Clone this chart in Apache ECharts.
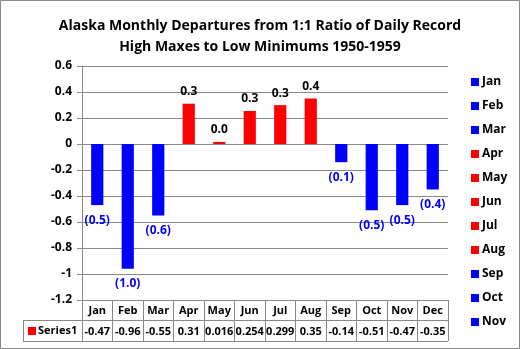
<!DOCTYPE html>
<html><head><meta charset="utf-8">
<script src="https://cdn.jsdelivr.net/npm/echarts@6/dist/echarts.min.js"></script>
<style>html,body{margin:0;padding:0;background:#fff}#c{width:520px;height:349px}</style>
</head><body><div id="c"></div>
<script>
var categories = ['Jan','Feb','Mar','Apr','May','Jun','Jul','Aug','Sep','Oct','Nov','Dec'];
var values = [-0.47,-0.96,-0.55,0.31,0.016,0.254,0.299,0.35,-0.14,-0.51,-0.47,-0.35];
var yTicks = {min:-1.2, max:0.6, interval:0.2};
var legendShown = categories.slice(0, 11);
var seriesName = 'Series1';

var FONT = 'Open Sans';
var BLUE = '#0000FF', RED = '#FF0000';
function fmt(v){
  var r = Math.round(Math.abs(v)*10)/10;
  return v < 0 ? '(' + r.toFixed(1) + ')' : r.toFixed(1);
}
var series = categories.map(function(c, i){
  var d = categories.map(function(_, j){ return j === i ? values[i] : '-'; });
  var neg = values[i] < 0;
  return {
    name: c, type: 'bar', stack: 'all', data: d, barWidth: '40%',
    itemStyle: {color: neg ? BLUE : RED},
    label: {show: true, position: neg ? 'bottom' : 'top', distance: neg ? 9 : 6,
      color: neg ? BLUE : '#000', fontFamily: FONT, fontSize: 12, fontWeight: 'bold',
      formatter: function(p){ return fmt(p.value); }}
  };
});
var chart = echarts.init(document.getElementById('c'));
chart.setOption({
  animation: false,
  title: {text: 'Alaska Monthly Departures from 1:1 Ratio of Daily Record\nHigh Maxes to Low Minimums 1950-1959',
    left: 'center', top: 11, textStyle: {fontFamily: FONT, fontSize: 14, fontWeight: 'bold', color: '#000', lineHeight: 21}},
  grid: {left: 82, right: 72, top: 66, bottom: 49},
  legend: {orient: 'vertical', left: 466, top: 71, itemWidth: 8, itemHeight: 8, itemGap: 12, icon: 'rect',
    data: legendShown, selectedMode: false,
    textStyle: {fontFamily: FONT, fontSize: 12, fontWeight: 'bold', color: '#000', padding: [0,0,0,-2]}},
  xAxis: [{
    type: 'category', data: categories, position: 'bottom',
    axisLine: {onZero: false, lineStyle: {color: '#888'}},
    axisTick: {show: true, length: 41, interval: 0, lineStyle: {color: '#888'}},
    axisLabel: {interval: 0, margin: 5, fontFamily: FONT, fontSize: 11, fontWeight: 'bold', color: '#000'}
  },{
    type: 'category', data: values.map(function(v){ return String(v); }), position: 'bottom', offset: 21,
    axisLine: {show: false, onZero: false}, axisTick: {show: false},
    axisLabel: {interval: 0, margin: 5, fontFamily: FONT, fontSize: 11, fontWeight: 'bold', color: '#000'}
  }],
  yAxis: {type: 'value', min: yTicks.min, max: yTicks.max, interval: yTicks.interval,
    axisLine: {show: true, lineStyle: {color: '#888'}},
    axisTick: {show: true, length: 5, lineStyle: {color: '#888'}},
    splitLine: {lineStyle: {color: '#888'}},
    axisLabel: {margin: 10, fontFamily: FONT, fontSize: 12, fontWeight: 'bold', color: '#000'}},
  series: series,
  graphic: [
    {type: 'rect', shape: {x: 0.5, y: 0.5, width: 519, height: 348}, style: {fill: 'none', stroke: '#888', lineWidth: 1}, silent: true},
    {type: 'line', shape: {x1: 23, y1: 320.5, x2: 448, y2: 320.5}, style: {stroke: '#888', lineWidth: 1}},
    {type: 'line', shape: {x1: 23, y1: 341.5, x2: 448, y2: 341.5}, style: {stroke: '#888', lineWidth: 1}},
    {type: 'line', shape: {x1: 23.5, y1: 320.5, x2: 23.5, y2: 341.5}, style: {stroke: '#888', lineWidth: 1}},
    {type: 'rect', shape: {x: 28, y: 327, width: 8, height: 8}, style: {fill: RED}},
    {type: 'text', x: 38, y: 331, style: {text: seriesName, fontFamily: FONT, fontSize: 11, fontWeight: 'bold', fill: '#000', verticalAlign: 'middle'}}
  ]
});
</script></body></html>
